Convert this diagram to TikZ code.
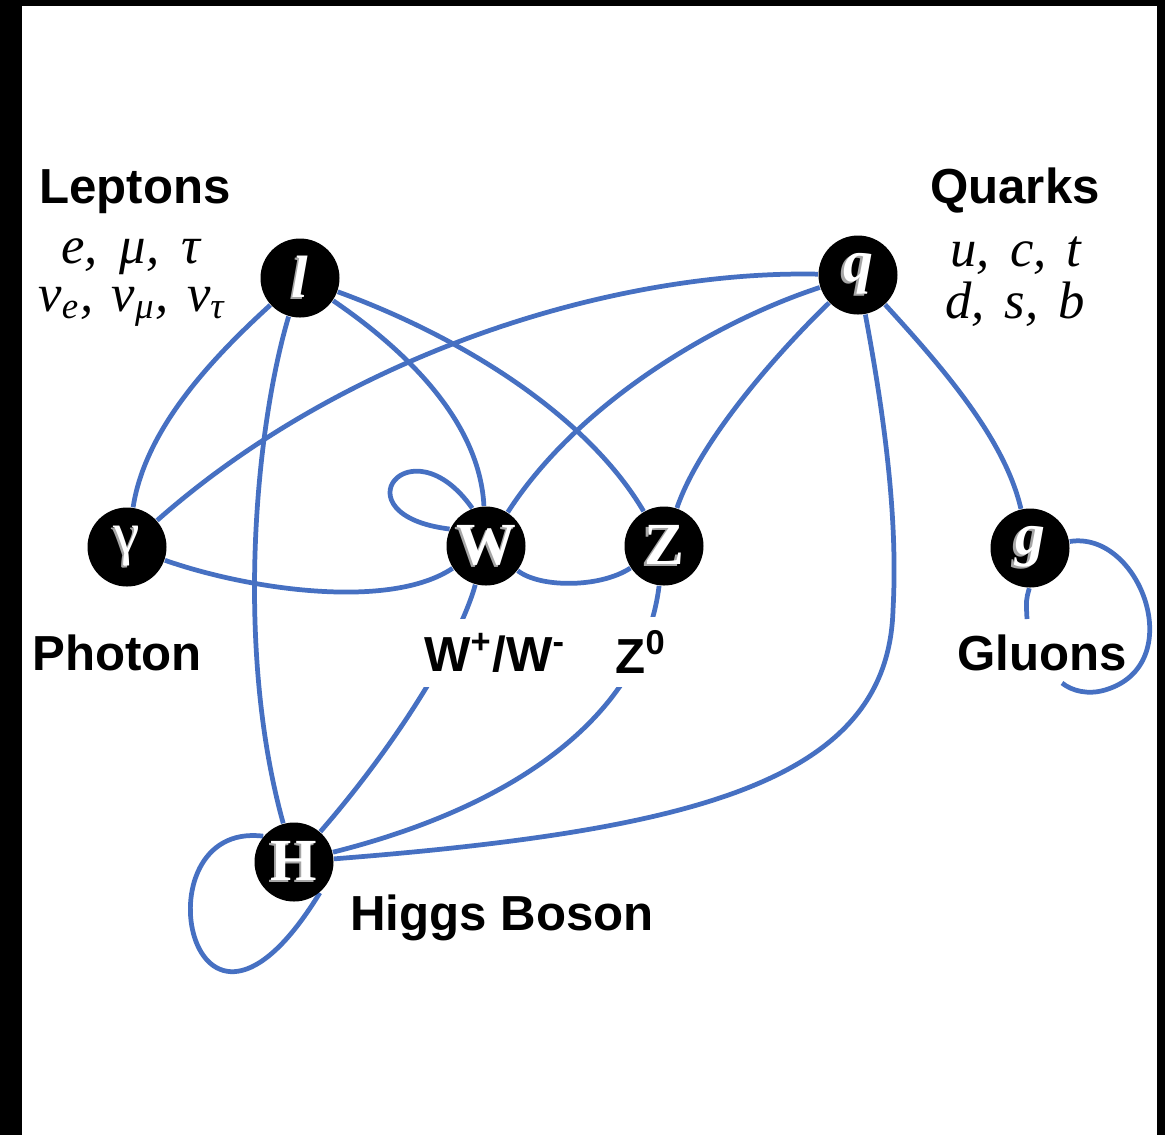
\documentclass[tikz,border=0pt]{standalone}
\usepackage{fontspec}
\setsansfont{Liberation Sans}
\newfontfamily\serf{Liberation Serif}
\pgfdeclarelayer{bg}
\pgfdeclarelayer{edges}
\pgfsetlayers{bg,edges,main}
\definecolor{edgeblue}{RGB}{70,112,194}
\newcommand\shd[1]{\makebox[0pt][l]{\hspace{-0.6pt}\raisebox{-0.5pt}{\textcolor{gray!70}{#1}}}#1}
\begin{document}
\begin{tikzpicture}[x=0.1mm,y=-0.1mm,
  particle/.style={circle,fill=black,minimum size=7.9mm,inner sep=0pt,text=white,
    font=\serf\bfseries\fontsize{17}{17}\selectfont},
  lab/.style={font=\sffamily\bfseries\fontsize{14}{16}\selectfont,inner sep=0pt},
  cover/.style={fill=white,inner xsep=1pt,inner ysep=4pt},
  flav/.style={font=\serf\itshape\fontsize{15}{16}\selectfont,inner sep=0pt},
  link/.style={draw=edgeblue,line width=1.35pt}]
\begin{pgfonlayer}{bg}
\fill[white] (0,0) rectangle (1165,1135);
\fill[black] (0,0) rectangle (22,1135);
\fill[black] (0,0) rectangle (1165,6);
\fill[black] (1157,0) rectangle (1165,1135);
\end{pgfonlayer}
\useasboundingbox (0,0) rectangle (1165,1135);

% particles
\node[particle] (l) at (300,278) {\shd{\itshape l}};
\node[particle] (q) at (858,275) {\shd{\itshape q}};
\node[particle] (gam) at (127,547) {\shd{\mdseries γ}};
\node[particle] (W) at (486,546) {\shd{W}};
\node[particle] (Z) at (664,546) {\shd{Z}};
\node[particle] (g) at (1030,548) {\shd{\itshape g}};
\node[particle] (H) at (294,862) {\shd{H}};

% labels
\node[lab] (lept) at (135,192) {Leptons};
\node[flav] (lep1) at (131,257) {e,\hspace{0.42em}μ,\hspace{0.42em}τ};
\node[flav] (lep2) at (132,307) {ν\textsubscript{e},\hspace{0.35em}ν\textsubscript{μ},\hspace{0.35em}ν\textsubscript{τ}};
\node[lab] (quar) at (1015,190) {Quarks};
\node[flav] (qk1) at (1016,256) {u,\hspace{0.38em}c,\hspace{0.38em}t};
\node[flav] (qk2) at (1015,304) {d,\hspace{0.38em}s,\hspace{0.38em}b};
\node[lab] (phot) at (117,653) {Photon};
\node[lab,cover] (wlab) at (495,653) {W\textsuperscript{+}/W\textsuperscript{-}};
\node[lab,cover] (zlab) at (641,652) {Z\textsuperscript{0}};
\node[lab] (glab) at (1042,653) {Gluons};
\node[lab] (higg) at (502,918) {Higgs Boson};

% free ends of the gluon loop (hidden behind its label)
\coordinate (gl1) at (1062,683);
\coordinate (gl2) at (1027,619);

\begin{pgfonlayer}{edges}
\draw[link] (l) .. controls (210,360) and (145,430) .. (gam);
\draw[link] (l) .. controls (255,430) and (235,650) .. (H);
\draw[link] (l) .. controls (420,360) and (480,430) .. (W);
\draw[link] (l) .. controls (470,340) and (590,420) .. (Z);
\draw[link] (q) .. controls (620,270) and (350,350) .. (gam);
\draw[link] (q) .. controls (720,320) and (580,400) .. (W);
\draw[link] (q) .. controls (780,350) and (700,440) .. (Z);
\draw[link] (q) .. controls (885,420) and (898,520) .. (893,610)
               .. controls (888,780) and (700,830) .. (H);
\draw[link] (q) .. controls (945,370) and (1005,440) .. (g);
\draw[link] (gam) .. controls (250,590) and (390,610) .. (W);
\draw[link] (W.155) .. controls (335,515) and (410,420) .. (W.110);
\draw[link] (W) .. controls (540,588) and (600,588) .. (Z);
\draw[link] (W) .. controls (460,640) and (400,740) .. (H);
\draw[link] (Z) .. controls (645,700) and (540,800) .. (H);
\draw[link] (g) .. controls (1140,530) and (1190,665) .. (1105,690)
               .. controls (1088,695) and (1072,691) .. (gl1);
\draw[link] (g.-91) .. controls (1026,600) .. (gl2);
\draw[link] (H.140) .. controls (135,820) and (190,1105) .. (H.-50);
\end{pgfonlayer}
\end{tikzpicture}
\end{document}
